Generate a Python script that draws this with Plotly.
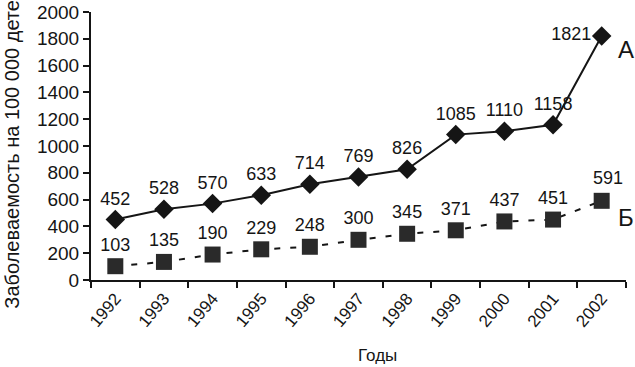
import plotly.graph_objects as go

years = ["1992", "1993", "1994", "1995", "1996", "1997", "1998", "1999", "2000", "2001", "2002"]
series_a = [452, 528, 570, 633, 714, 769, 826, 1085, 1110, 1158, 1821]
series_b = [103, 135, 190, 229, 248, 300, 345, 371, 437, 451, 591]
y_ticks = [0, 200, 400, 600, 800, 1000, 1200, 1400, 1600, 1800, 2000]

FONT = "Liberation Sans, Arial, sans-serif"
INK = "#151515"

pos_a = ["top center"] * 11
pos_a[10] = "middle left"
text_b = [str(v) for v in series_b]
text_b[-1] = ""  # last label drawn as annotation (offset to the right)

fig = go.Figure()
fig.add_trace(go.Scatter(
    x=years, y=series_a, mode="lines+markers+text",
    line=dict(color=INK, width=2),
    marker=dict(symbol="diamond", size=15, color=INK),
    text=[str(v) for v in series_a], textposition=pos_a,
    textfont=dict(family=FONT, size=18, color=INK),
    cliponaxis=False, showlegend=False,
))
fig.add_trace(go.Scatter(
    x=years, y=series_b, mode="lines+markers+text",
    line=dict(color=INK, width=2, dash="6px,10px"),
    marker=dict(symbol="square", size=16, color="#2a2a2a"),
    text=text_b, textposition="top center",
    textfont=dict(family=FONT, size=18, color=INK),
    cliponaxis=False, showlegend=False,
))

fig.update_layout(
    width=635, height=367,
    margin=dict(l=91, r=9, t=12, b=87),
    paper_bgcolor="white", plot_bgcolor="white",
    font=dict(family=FONT, color=INK),
    xaxis=dict(
        type="category", range=[-0.5, 10.5], automargin=False,
        showline=True, linecolor=INK, linewidth=2,
        ticks="outside", tickson="boundaries", ticklen=6, tickcolor=INK, tickwidth=1.5,
        tickangle=-50, tickfont=dict(family=FONT, size=17, color=INK),
        showgrid=False, zeroline=False,
    ),
    yaxis=dict(
        range=[0, 2000], tickvals=y_ticks, automargin=False,
        showline=True, linecolor=INK, linewidth=2,
        ticks="outside", ticklen=6, tickcolor=INK, tickwidth=1.5,
        tickfont=dict(family=FONT, size=19, color=INK),
        showgrid=False, zeroline=False,
    ),
    annotations=[
        dict(text=str(series_b[-1]), x=len(years) - 1, y=series_b[-1], xref="x", yref="y",
             xshift=6, yshift=23, xanchor="center", yanchor="middle", showarrow=False,
             font=dict(family=FONT, size=18, color=INK)),
        dict(text="Годы", xref="paper", yref="paper", x=0.535, y=-0.28,
             xanchor="center", yanchor="middle", showarrow=False,
             font=dict(family=FONT, size=17, color=INK)),
        dict(text="Заболеваемость на 100 000 детей", xref="paper", yref="paper",
             x=-0.148, y=-0.115, xanchor="center", yanchor="bottom", textangle=-90,
             showarrow=False, font=dict(family=FONT, size=20, color=INK)),
        dict(text="А", xref="paper", yref="y", x=1.0, y=1720,
             xanchor="center", yanchor="middle", showarrow=False,
             font=dict(family=FONT, size=24, color=INK)),
        dict(text="Б", xref="paper", yref="y", x=1.0, y=470,
             xanchor="center", yanchor="middle", showarrow=False,
             font=dict(family=FONT, size=24, color=INK)),
    ],
)

fig.write_html("out.html")
